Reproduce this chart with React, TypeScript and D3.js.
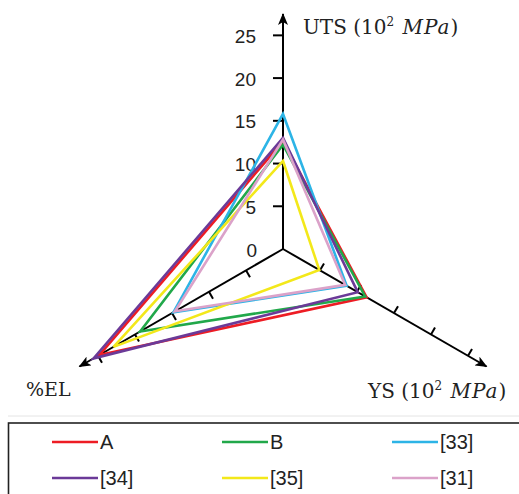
import React from "react";
import * as d3 from "d3";

const seriesNames = ["A", "B", "[33]", "[34]", "[35]", "[31]"];
const seriesColors = ["#ed1c24", "#21a84a", "#2cb4e6", "#6b3a98", "#f3e81a", "#dba2c9"];
const utsValues = [12.6, 12.2, 15.8, 13.0, 10.3, 12.8];
const ysValues = [11.3, 11.1, 8.6, 10.1, 4.9, 8.4];
const elValues = [24.8, 19.3, 14.8, 25.6, 22.9, 14.6];
const tickValues = [0, 5, 10, 15, 20, 25];

const width = 519;
const height = 494;
const cx = 283;
const cy = 249;
// axis angles (screen coords): UTS up, YS lower right, %EL lower left
const angles = [-Math.PI / 2, Math.PI / 6, (5 * Math.PI) / 6];

const r = d3.scaleLinear().domain([0, 27.5]).range([0, 235]);

const pt = (a: number, v: number): [number, number] => [
  cx + r(v) * Math.cos(a),
  cy + r(v) * Math.sin(a),
];

const line = d3.line<[number, number]>().curve(d3.curveLinearClosed);

const serif = "'DejaVu Serif', serif";
const sans = "'Liberation Sans', Arial, sans-serif";

const Unit = () => (
  <>
    <tspan fontSize={12} dy={-8}>2</tspan>
    <tspan dy={8}> </tspan>
    <tspan fontStyle="italic" dx={2} letterSpacing={1}>MPa</tspan>)
  </>
);

const App = () => {
  const series = seriesNames.map((name, i) => ({
    name,
    color: seriesColors[i],
    pts: [pt(angles[0], utsValues[i]), pt(angles[1], ysValues[i]), pt(angles[2], elValues[i])],
  }));

  const legendCols = [52, 222, 392];
  const legendRows = [442, 478];

  return (
    <svg width={width} height={height} style={{ position: "absolute", left: 0, top: 0, background: "#fff" }}>
      <defs>
        <marker id="arrow" viewBox="0 0 12 10" refX={11} refY={5} markerWidth={12} markerHeight={10}
          markerUnits="userSpaceOnUse" orient="auto">
          <path d="M0,0 L12,5 L0,10 L3,5 Z" fill="#000" />
        </marker>
      </defs>

      {/* axes */}
      {angles.map((a, i) => {
        const [x2, y2] = pt(a, 27.5);
        return <line key={i} x1={cx} y1={cy} x2={x2} y2={y2} stroke="#000" strokeWidth={2} markerEnd="url(#arrow)" />;
      })}

      {/* ticks */}
      {angles.map((a, i) =>
        tickValues.filter((t) => t > 0).map((t) => {
          const [x, y] = pt(a, t);
          const len = i === 0 ? 10 : 8;
          const dx = Math.sin(a) * len;
          const dy = -Math.cos(a) * len;
          return <line key={`${i}-${t}`} x1={x} y1={y} x2={x + dx} y2={y + dy} stroke="#000" strokeWidth={2} />;
        })
      )}

      {/* tick labels on UTS axis */}
      {tickValues.map((t) => {
        const [, y] = pt(angles[0], t);
        return (
          <text key={t} x={t === 0 ? 257 : 256} y={y + 1} dy="0.35em" textAnchor="end"
            fontFamily={sans} fontSize={19} fill="#222">
            {t}
          </text>
        );
      })}

      {/* series polygons */}
      {series.map((s) => (
        <path key={s.name} d={line(s.pts) ?? ""} fill="none" stroke={s.color} strokeWidth={2.6} strokeLinejoin="miter" />
      ))}

      {/* axis titles */}
      <text x={303} y={34} fontFamily={serif} fontSize={20} fill="#222">
        UTS (10<Unit />
      </text>
      <text x={368} y={398} fontFamily={serif} fontSize={20} fill="#222">
        YS (10<Unit />
      </text>
      <text x={26} y={396} fontFamily={serif} fontSize={19} fill="#222">
        %EL
      </text>

      {/* legend */}
      <line x1={8} y1={416} x2={519} y2={416} stroke="#e4e4e4" strokeWidth={1} />
      <rect x={8.5} y={423} width={530} height={90} fill="none" stroke="#222" strokeWidth={1.6} />
      {series.map((s, i) => {
        const x = legendCols[i % 3];
        const y = legendRows[Math.floor(i / 3)];
        return (
          <g key={s.name}>
            <line x1={x} y1={y} x2={x + 46} y2={y} stroke={s.color} strokeWidth={2.6} />
            <text x={x + 48} y={y} dy="0.36em" fontFamily={sans} fontSize={20} fill="#222">
              {s.name}
            </text>
          </g>
        );
      })}
    </svg>
  );
};

export default App;
